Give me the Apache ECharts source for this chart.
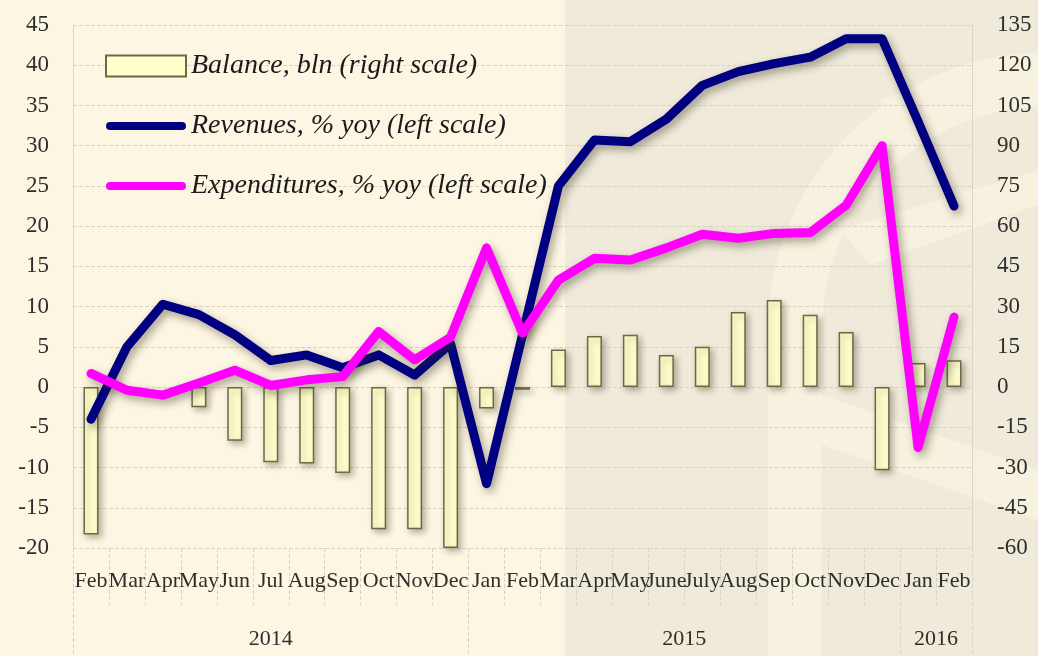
<!DOCTYPE html>
<html>
<head>
<meta charset="utf-8">
<style>
  html, body { margin: 0; padding: 0; background: #fcf6e2; }
  #chart { width: 1038px; height: 656px; }
</style>
<script src="https://cdn.jsdelivr.net/npm/echarts@6/dist/echarts.min.js"></script>
</head>
<body>
<div id="chart"></div>
<script>
const months = ['Feb', 'Mar', 'Apr', 'May', 'Jun', 'Jul', 'Aug', 'Sep', 'Oct', 'Nov', 'Dec',
  'Jan', 'Feb', 'Mar', 'Apr', 'May', 'June', 'July', 'Aug', 'Sep', 'Oct', 'Nov', 'Dec',
  'Jan', 'Feb'];

// years with the index range of months they cover
const years = ['2014', '2015', '2016'];
const yearStart = [0, 11, 23];
const yearEnd = [11, 23, 25];

// no visible bar in Mar and Apr 2014
const balance = [-55, null, null, -7.5, -20, -28, -28.5, -32, -53, -53, -60,
  -8, -1, 14, 19, 19.5, 12, 15, 28, 32.5, 27, 20.5, -31,
  9, 10];

const revenues = [-4, 5, 10.3, 9, 6.5, 3.3, 4, 2.4, 4, 1.5, 5.4,
  -12, 6.5, 25, 30.7, 30.5, 33.3, 37.5, 39.2, 40.2, 41, 43.3, 43.3,
  33, 22.5];

const expenditures = [1.7, -0.4, -1, 0.5, 2.1, 0.2, 0.9, 1.3, 6.9, 3.4, 6.2,
  17.3, 6.7, 13.3, 16, 15.8, 17.3, 19, 18.5, 19.1, 19.2, 22.6, 30,
  -7.5, 8.7];

const leftTicks = { min: -20, max: 45, interval: 5 };
const rightTicks = { min: -60, max: 135, interval: 15 };

const serif = '"Liberation Serif", "DejaVu Serif", serif';
const labelColor = '#2e2e2e';
const gridColor = '#d9d4c4';
const lightBand = '#f7f1df';

const yearMid = years.map((y, i) => (yearStart[i] + yearEnd[i]) / 2);
const yearTicks = [...new Set([...yearStart, ...yearEnd])];

// capsule shaped legend icon for the thick lines
const lineIcon = 'path://M4,0 H76 A4,4 0 0 1 76,8 H4 A4,4 0 0 1 4,0 Z';

const chart = echarts.init(document.getElementById('chart'));

const lineShadow = {
  shadowColor: 'rgba(60, 50, 30, 0.45)',
  shadowBlur: 8,
  shadowOffsetX: 3,
  shadowOffsetY: 4
};

chart.setOption({
  backgroundColor: '#fcf6e2',
  animation: false,
  graphic: [
    {
      type: 'rect',
      z: -10,
      silent: true,
      shape: { x: 565, y: -80, width: 560, height: 820, r: 70 },
      style: { fill: '#efeada' }
    },
    {
      type: 'arc',
      z: -9,
      silent: true,
      shape: { cx: 1045, cy: 330, r: 250, startAngle: Math.PI, endAngle: Math.PI * 1.5 },
      style: { stroke: lightBand, lineWidth: 54, fill: null }
    },
    {
      type: 'rect',
      z: -9,
      silent: true,
      shape: { x: 768, y: 329, width: 54, height: 340 },
      style: { fill: lightBand }
    },
    {
      type: 'polygon',
      z: -9,
      silent: true,
      shape: { points: [[880, 100], [1038, 55], [1038, 85], [900, 125]] },
      style: { fill: lightBand }
    },
    {
      type: 'polygon',
      z: -9,
      silent: true,
      shape: { points: [[840, 230], [1038, 170], [1038, 205], [870, 265]] },
      style: { fill: lightBand }
    },
    {
      type: 'polygon',
      z: -9,
      silent: true,
      shape: { points: [[822, 395], [1038, 470], [1038, 520], [822, 445]] },
      style: { fill: lightBand }
    }
  ],
  legend: {
    orient: 'vertical',
    left: 100,
    top: 47,
    itemWidth: 80,
    itemHeight: 21,
    itemGap: 32,
    textStyle: {
      fontFamily: serif,
      fontStyle: 'italic',
      fontSize: 28,
      color: '#1a1a1a'
    },
    data: [
      { name: 'Balance, bln (right scale)', icon: 'rect' },
      { name: 'Revenues, % yoy (left scale)', icon: lineIcon },
      { name: 'Expenditures, % yoy (left scale)', icon: lineIcon }
    ]
  },
  grid: { left: 73, right: 66, top: 25, bottom: 108 },
  xAxis: [
    {
      type: 'category',
      data: months,
      boundaryGap: true,
      axisLine: { show: false, onZero: false },
      axisTick: {
        show: true,
        interval: 0,
        length: 57,
        lineStyle: { color: gridColor, type: 'dashed' }
      },
      axisLabel: {
        interval: 0,
        margin: 22,
        fontFamily: serif,
        fontSize: 22,
        color: labelColor
      },
      splitLine: { show: false }
    },
    {
      type: 'value',
      min: 0,
      max: months.length,
      position: 'bottom',
      axisLine: { show: false, onZero: false },
      splitLine: { show: false },
      axisTick: {
        show: true,
        customValues: yearTicks,
        length: 110,
        lineStyle: { color: gridColor, type: 'dashed' }
      },
      axisLabel: {
        customValues: yearMid,
        margin: 80,
        fontFamily: serif,
        fontSize: 22,
        color: labelColor,
        formatter: v => years[yearMid.indexOf(v)] || ''
      }
    }
  ],
  yAxis: [
    {
      type: 'value',
      min: leftTicks.min,
      max: leftTicks.max,
      interval: leftTicks.interval,
      axisLine: { show: true, lineStyle: { color: gridColor } },
      axisTick: { show: false },
      axisLabel: {
        margin: 24,
        fontFamily: serif,
        fontSize: 23,
        color: labelColor
      },
      splitLine: { show: true, lineStyle: { color: gridColor, type: 'dashed' } }
    },
    {
      type: 'value',
      position: 'right',
      min: rightTicks.min,
      max: rightTicks.max,
      interval: rightTicks.interval,
      axisLine: { show: true, lineStyle: { color: gridColor } },
      axisTick: { show: false },
      axisLabel: {
        margin: 25,
        fontFamily: serif,
        fontSize: 23,
        color: labelColor
      },
      splitLine: { show: false }
    }
  ],
  series: [
    {
      name: 'Balance, bln (right scale)',
      type: 'bar',
      yAxisIndex: 1,
      data: balance,
      barWidth: 15,
      itemStyle: {
        color: '#ffffcc',
        borderColor: '#6b6a48',
        borderWidth: 1.5,
        shadowColor: 'rgba(60, 50, 30, 0.35)',
        shadowBlur: 6,
        shadowOffsetX: 3,
        shadowOffsetY: 3
      }
    },
    {
      name: 'Revenues, % yoy (left scale)',
      type: 'line',
      yAxisIndex: 0,
      data: revenues,
      symbol: 'none',
      itemStyle: { color: '#000080' },
      lineStyle: Object.assign({ color: '#000080', width: 9, cap: 'round', join: 'round' }, lineShadow)
    },
    {
      name: 'Expenditures, % yoy (left scale)',
      type: 'line',
      yAxisIndex: 0,
      data: expenditures,
      symbol: 'none',
      itemStyle: { color: '#ff00ff' },
      lineStyle: Object.assign({ color: '#ff00ff', width: 9, cap: 'round', join: 'round' }, lineShadow)
    }
  ]
});
</script>
</body>
</html>
